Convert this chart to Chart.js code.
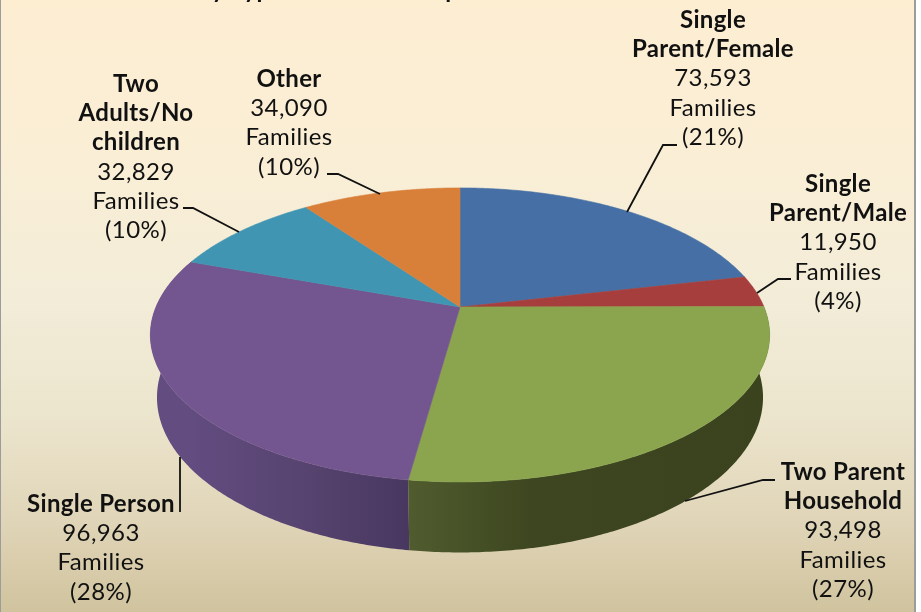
<!DOCTYPE html>
<html lang="en">
<head>
    <meta charset="UTF-8">
    <title>Families by Type of Home Group</title>
    <script src="https://cdn.jsdelivr.net/npm/chart.js"></script>
    <style>
        html, body { margin: 0; background: #fff; }
        canvas { display: block; }
    </style>
</head>
<body>
    <canvas id="pieChart" width="921" height="612"></canvas>
    <script>
        // data
        const categories = ['Single Parent/Female', 'Single Parent/Male', 'Two Parent Household', 'Single Person', 'Two Adults/No children', 'Other'];
        const families = [73593, 11950, 93498, 96963, 32829, 34090];
        const percentLabels = ['(21%)', '(4%)', '(27%)', '(28%)', '(10%)', '(10%)'];
        const nameLines = [['Single', 'Parent/Female'], ['Single', 'Parent/Male'], ['Two Parent', 'Household'], ['Single Person'], ['Two', 'Adults/No', 'children'], ['Other']];
        const titleText = 'Families by Type of Home Group';

        // colours
        const topColors = ['#4670a5', '#a53e3c', '#8aa54e', '#73558f', '#4096b2', '#d8803a'];
        // wall gradients, left to right across the slice
        const wallStops = [null, null,
            [[0, '#505c2e'], [0.35, '#3d4620'], [1, '#3a431d']],
            [[0, '#624c80'], [0.5, '#574470'], [1, '#483860']],
            null, null];

        // label layout: centre x, first baseline, then the leader polyline
        const labelX = [713, 838, 843, 101, 136, 289];
        const labelY = [28, 192, 480, 512, 92, 87];
        const leaders = [
            [[627, 212], [663, 145], [677, 145]],
            [[757, 293], [778, 279], [791, 279]],
            [[685, 501], [763, 480], [775, 480]],
            [[180, 457], [180, 512]],
            [[239, 232], [193, 208], [183, 208]],
            [[380, 194], [338, 174], [327, 174]]
        ];

        // perspective of the tilted disc, top face and bottom face
        const topFace = { x: 460, y: 307, rx: 304, ry: 141.7, k: 0.19 };
        const bottomFace = { x: 460, y: 368, rx: 297.5, ry: 149.4, k: 0.19 };

        function project(face, angle) {
            const u = Math.cos(angle), v = Math.sin(angle);
            const w = 1 - face.k * v;
            return [face.x + face.rx * u / w, face.y + face.ry * v / w];
        }

        function traceRim(ctx, face, from, to) {
            const steps = Math.max(2, Math.ceil(Math.abs(to - from) / 0.01));
            for (let i = 0; i <= steps; i++) {
                const p = project(face, from + (to - from) * i / steps);
                ctx.lineTo(p[0], p[1]);
            }
        }

        const tiltedPie = {
            id: 'tiltedPie',
            beforeDraw(chart) {
                const ctx = chart.ctx;
                const g = ctx.createLinearGradient(0, 0, 0, 612);
                g.addColorStop(0, '#fdeed2');
                g.addColorStop(0.3, '#f9eed6');
                g.addColorStop(0.5, '#f2ecd8');
                g.addColorStop(0.68, '#ece5cd');
                g.addColorStop(0.85, '#e0d5b8');
                g.addColorStop(1, '#d0c39e');
                ctx.fillStyle = g;
                ctx.fillRect(1, 0, 913, 612);
                ctx.fillStyle = '#9c9c9c';
                ctx.fillRect(0, 0, 1, 612);
                ctx.fillRect(914, 0, 2, 612);
            },
            beforeDatasetDraw(chart) {
                const ctx = chart.ctx;
                const arcs = chart.getDatasetMeta(0).data;
                // side wall first, only the part facing the viewer
                arcs.forEach((arc, i) => {
                    if (!wallStops[i]) return;
                    const from = Math.max(arc.startAngle, 0);
                    const to = Math.min(arc.endAngle, Math.PI * 1.15);
                    if (to <= from) return;
                    const a = project(topFace, from)[0], b = project(topFace, to)[0];
                    const g = ctx.createLinearGradient(Math.min(a, b), 0, Math.max(a, b), 0);
                    wallStops[i].forEach(s => g.addColorStop(s[0], s[1]));
                    ctx.fillStyle = g;
                    ctx.beginPath();
                    traceRim(ctx, topFace, from, to);
                    traceRim(ctx, bottomFace, to, from);
                    ctx.closePath();
                    ctx.fill();
                });
                // top face
                arcs.forEach((arc, i) => {
                    ctx.fillStyle = topColors[i];
                    ctx.strokeStyle = topColors[i];
                    ctx.lineWidth = 0.6;
                    ctx.beginPath();
                    ctx.moveTo(topFace.x, topFace.y);
                    traceRim(ctx, topFace, arc.startAngle, arc.endAngle);
                    ctx.closePath();
                    ctx.fill();
                    ctx.stroke();
                });
                return false;
            },
            afterDatasetsDraw(chart) {
                const ctx = chart.ctx;
                ctx.save();
                ctx.strokeStyle = '#111';
                ctx.lineWidth = 1.8;
                leaders.forEach(pts => {
                    ctx.beginPath();
                    pts.forEach((p, j) => j ? ctx.lineTo(p[0], p[1]) : ctx.moveTo(p[0], p[1]));
                    ctx.stroke();
                });
                ctx.fillStyle = '#111';
                ctx.textAlign = 'center';
                ctx.textBaseline = 'alphabetic';
                categories.forEach((name, i) => {
                    let y = labelY[i];
                    ctx.font = 'bold 24px Lato';
                    ctx.letterSpacing = '0.3px';
                    nameLines[i].forEach(line => {
                        ctx.fillText(line, labelX[i], y);
                        y += 29.2;
                    });
                    ctx.font = '24px Lato';
                    ctx.letterSpacing = '0.4px';
                    [families[i].toLocaleString('en-US'), 'Families', percentLabels[i]].forEach(line => {
                        ctx.fillText(line, labelX[i], y);
                        y += 29.2;
                    });
                });
                // title is cut by the top edge in the picture, only descenders show
                ctx.font = 'bold 24px Lato';
                ctx.letterSpacing = '0.3px';
                ctx.textAlign = 'left';
                ctx.fillText(titleText, 104, -2);
                ctx.restore();
            }
        };

        new Chart(document.getElementById('pieChart'), {
            type: 'pie',
            data: {
                labels: categories,
                datasets: [{ data: families, backgroundColor: topColors, borderWidth: 0 }]
            },
            options: {
                responsive: false,
                animation: false,
                plugins: { legend: { display: false }, tooltip: { enabled: false } }
            },
            plugins: [tiltedPie]
        });
    </script>
</body>
</html>
